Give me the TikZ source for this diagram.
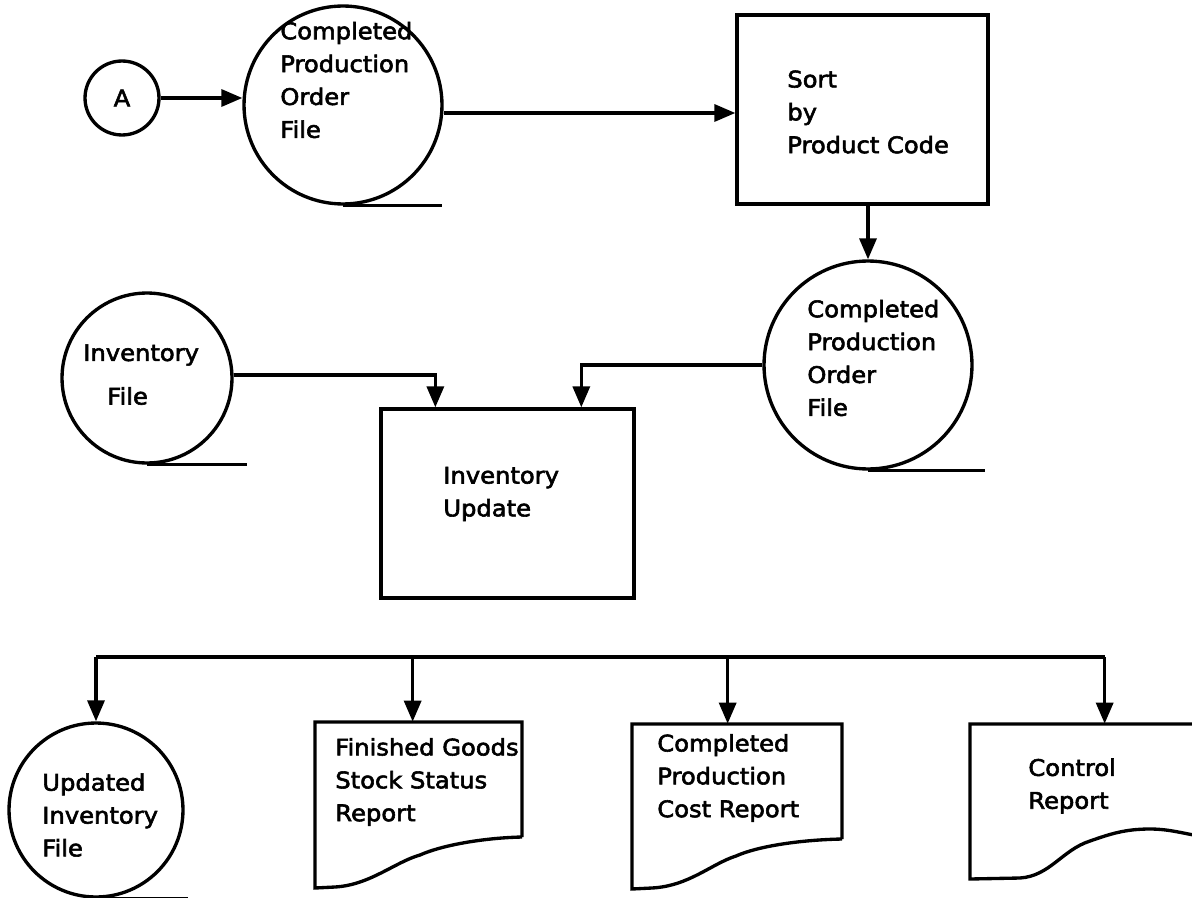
\documentclass[tikz,border=0pt]{standalone}
\usepackage{fontspec}
\setmainfont{DejaVu Sans}[FakeStretch=1.06,FakeBold=2.5]
\usetikzlibrary{arrows.meta}
\newcommand{\lab}{\fontsize{13}{18.7}\selectfont}
\begin{document}
\begin{tikzpicture}[x=0.02cm,y=-0.02cm,
  line/.style={line width=1.9pt},
  flow/.style={line width=1.9pt,-{Triangle[length=0.42cm,width=0.34cm]}},
  disk/.style={circle,draw,line width=1.9pt,inner sep=0pt},
  procbox/.style={rectangle,draw,line width=1.9pt,inner sep=0pt},
  docbox/.style={rectangle,inner sep=0pt},
  txt/.style={inner sep=0pt,align=left,anchor=west,font=\lab}]
\fill[white] (0,0) rectangle (1192,898);
\useasboundingbox (0,0) rectangle (1192,898);

% connector symbol and first file
\node[disk,minimum size=1.48cm,font=\lab] (A) at (122,98) {A};
\node[disk,minimum size=3.96cm] (cpo1) at (343,105) {};
\node[txt] (cpo1t) at (280,80) {Completed\\Production\\Order\\File};
\draw[line] (cpo1.south) -- ++(99,0);

% sort process
\node[procbox,minimum width=5.02cm,minimum height=3.78cm] (sort) at (862.5,109.5) {};
\node[txt] (sortt) at (787,112) {Sort\\by\\Product Code};

% sorted file
\node[disk,minimum size=4.16cm] (cpo2) at (868,365) {};
\node[txt] (cpo2t) at (807,358) {Completed\\Production\\Order\\File};
\draw[line] (cpo2.south) -- ++(117,0);

% inventory master file
\node[disk,minimum size=3.4cm] (inv) at (147,378) {};
\node[txt] (invt1) at (83,355) {Inventory};
\node[txt] (invt2) at (107,396) {File};
\draw[line] (inv.south) -- ++(100,0);

% update process
\node[procbox,minimum width=5.06cm,minimum height=3.78cm] (upd) at (507.5,503.5) {};
\node[txt] (updt) at (443,494) {Inventory\\Update};

% outputs
\node[disk,minimum size=3.48cm] (uinv) at (96,810) {};
\node[txt] (uinvt) at (42,815) {Updated\\Inventory\\File};
\draw[line] (uinv.south) -- ++(92,0);

\node[docbox,minimum width=4.14cm,minimum height=2.3cm] (doc2) at (418.5,779.5) {};
\draw[line] (522,837) -- (522,722) -- (315,722) -- (315,888) -- (335,887)
  .. controls (370,885) and (395,862) .. (420,855)
  .. controls (440,846) and (480,838) .. (522,837);
\node[txt] (doc2t) at (335,782) {Finished Goods\\Stock Status\\Report};

\node[docbox,minimum width=4.2cm,minimum height=2.3cm] (doc3) at (737,781.5) {};
\draw[line] (842,839) -- (842,724) -- (632,724) -- (632,889) -- (652,888)
  .. controls (689,886) and (711,864) .. (736,856)
  .. controls (756,847) and (796,840) .. (842,839);
\node[txt] (doc3t) at (657,778) {Completed\\Production\\Cost Report};

\node[docbox,minimum width=5.2cm,minimum height=2.16cm] (doc4) at (1100,778) {};
\draw[line] (1230,832) -- (1230,724) -- (970,724) -- (970,879) -- (1020,878)
  .. controls (1050,876) and (1062,850) .. (1090,841)
  .. controls (1110,834) and (1125,829) .. (1150,829)
  .. controls (1170,829) and (1185,834) .. (1200,836) -- (1230,832);
\node[txt] (doc4t) at (1028,786) {Control\\Report};

% flows
\draw[flow] (A.east) -- (cpo1.west |- A.east);
\draw[flow] ([yshift=-0.07cm]cpo1.east |- sort.west) -- ([yshift=-0.07cm]sort.west);
\draw[flow] (sort.south -| cpo2.north) -- (cpo2.north);
\draw[flow] ([yshift=0.06cm]inv.east) -| ([xshift=1.12cm]upd.north west);
\draw[flow] (cpo2.west) -| ([xshift=4.04cm]upd.north west);

\coordinate (bus) at (0,657);
\draw[line] (uinv.north |- bus) -- ([xshift=2.7cm]doc4.north west |- bus);
\draw[flow] (uinv.north |- bus) -- (uinv.north);
\draw[flow] ([xshift=1.96cm]doc2.north west |- bus) -- ([xshift=1.96cm]doc2.north west);
\draw[flow] ([xshift=1.92cm]doc3.north west |- bus) -- ([xshift=1.92cm]doc3.north west);
\draw[flow] ([xshift=2.7cm]doc4.north west |- bus) -- ([xshift=2.7cm]doc4.north west);
\end{tikzpicture}
\end{document}
